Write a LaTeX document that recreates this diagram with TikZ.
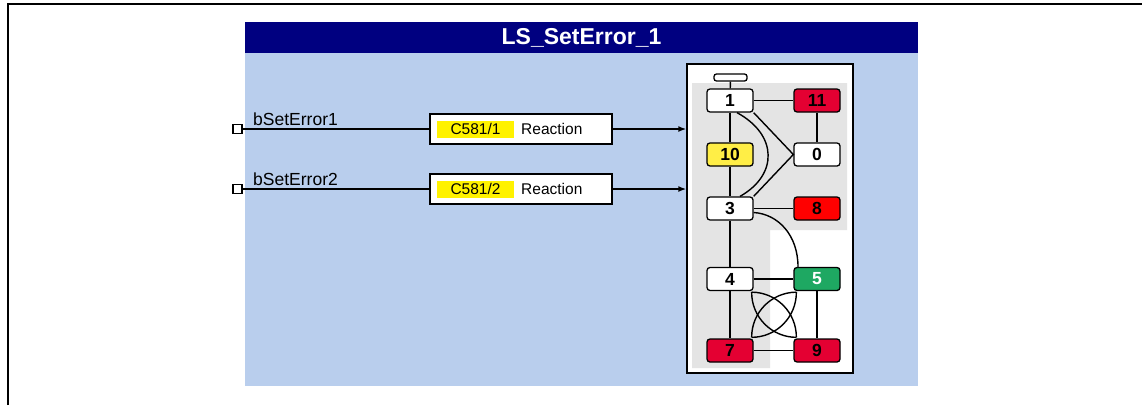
\documentclass[tikz,border=0pt]{standalone}
\usepackage{fontspec}
\setmainfont{Liberation Sans}
\usetikzlibrary{arrows.meta}
\definecolor{navy}{RGB}{0,0,128}
\definecolor{lblue}{RGB}{185,206,237}
\definecolor{gbg}{RGB}{228,228,228}
\definecolor{sred}{RGB}{228,0,50}
\definecolor{bred}{RGB}{255,0,0}
\definecolor{syel}{RGB}{255,238,70}
\definecolor{sgreen}{RGB}{30,168,98}
\begin{document}
\begin{tikzpicture}[x=1pt,y=-1pt,
  stbox/.style={draw=black, line width=1.3pt, rounded corners=3pt, minimum width=46pt, minimum height=23pt, inner sep=0pt, font=\fontsize{17.5}{18}\selectfont\bfseries, fill=white},
  edge/.style={line width=1.4pt},
  inbox/.style={draw=black, line width=1.2pt, fill=white, minimum size=9pt, inner sep=0pt},
  rbox/.style={draw=black, line width=1.1pt, fill=white, minimum width=182pt, minimum height=30pt, inner sep=0pt},
  cbox/.style={fill=yellow, minimum width=77pt, minimum height=17pt, inner sep=0pt, font=\fontsize{15.5}{16}\selectfont},
  rtext/.style={anchor=west, inner sep=0pt, font=\fontsize{15.5}{16}\selectfont},
  intext/.style={anchor=base west, inner sep=0pt, font=\fontsize{17.5}{18}\selectfont},
  wire/.style={line width=1.5pt},
  arr/.style={line width=1.5pt, -{Latex[length=8pt,width=6pt]}}
]
\useasboundingbox (0,0) rectangle (1142,405);
% outer frame
\draw[line width=2pt] (7.5,405) -- (7.5,3.5) -- (1142,3.5);
% block
\fill[lblue] (245,53) rectangle (918,386);
\fill[navy] (245,22) rectangle (918,53);
\node[text=white, inner sep=0pt, font=\fontsize{23}{24}\selectfont\bfseries] (title) at (581.5,37.5) {LS\_SetError\_1};

% state machine frame
\node[draw=black, line width=1.5pt, fill=white, minimum width=166pt, minimum height=309pt, inner sep=0pt] (sm) at (770,218.5) {};
\fill[gbg] (692,83) -- (847,83) -- (847,230) -- (770,230) -- (770,368) -- (692,368) -- cycle;

% states
\node[draw=black, line width=1.3pt, rounded corners=2.5pt, fill=white, minimum width=33pt, minimum height=7pt, inner sep=0pt] (init) at (730.5,77.5) {};
\node[stbox] (s1) at (730,100.5) {1};
\node[stbox, fill=sred] (s11) at (817,100.5) {11};
\node[stbox, fill=syel] (s10) at (730,154.5) {10};
\node[stbox] (s0) at (817,154.5) {0};
\node[stbox] (s3) at (730,208.5) {3};
\node[stbox, fill=bred] (s8) at (817,208.5) {8};
\node[stbox] (s4) at (730,279) {4};
\node[stbox, fill=sgreen, text=white] (s5) at (817,279) {5};
\node[stbox, fill=sred] (s7) at (730,350.5) {7};
\node[stbox, fill=sred] (s9) at (817,350.5) {9};

% transitions
\draw[edge] (init) -- (s1);
\draw[edge] (s1) -- (s11);
\draw[edge] (s11) -- (s0);
\draw[edge] (s1) -- (s10);
\draw[edge] (s10) -- (s3);
\draw[edge] (s3) -- (s8);
\draw[edge] (s3) -- (s4);
\draw[edge] (s4) -- (s5);
\draw[edge] (s5) -- (s9);
\draw[edge] (s4) -- (s7);
\draw[edge] (s7) -- (s9);
\draw[edge] ([xshift=7pt]s1.south) .. controls (778,135) and (778,175) .. ([xshift=10pt]s3.north);
\draw[edge] (s1.south east) -- (s0.west) -- (s3.north east);
\draw[edge] ([yshift=-4pt]s3.east) .. controls (778,214) and (798,235) .. ([xshift=-19pt]s5.north);
\draw[edge] ([shift={(-2pt,-1pt)}]s4.south east) to[bend left=45] ([shift={(3pt,1pt)}]s9.north west);
\draw[edge] ([shift={(-2pt,-1pt)}]s4.south east) to[bend right=45] ([shift={(3pt,1pt)}]s9.north west);
\draw[edge] ([shift={(3pt,-1pt)}]s5.south west) to[bend left=45] ([shift={(-2pt,1pt)}]s7.north east);
\draw[edge] ([shift={(3pt,-1pt)}]s5.south west) to[bend right=45] ([shift={(-2pt,1pt)}]s7.north east);

% inputs
\node[inbox] (in1) at (237.5,129) {};
\node[inbox] (in2) at (237.5,189) {};
\node[rbox] (r1) at (521,129) {};
\node[rbox] (r2) at (521,189) {};
\node[cbox] (c1) at (475.5,129) {C581/1};
\node[cbox] (c2) at (475.5,189) {C581/2};
\node[rtext] (t1) at (521,129) {Reaction};
\node[rtext] (t2) at (521,189) {Reaction};
\node[intext] (l1) at (253,125) {bSetError1};
\node[intext] (l2) at (253,185) {bSetError2};
\draw[wire] (in1) -- (r1);
\draw[wire] (in2) -- (r2);
\draw[arr] (r1) -- (sm.west |- r1);
\draw[arr] (r2) -- (sm.west |- r2);
\end{tikzpicture}
\end{document}
